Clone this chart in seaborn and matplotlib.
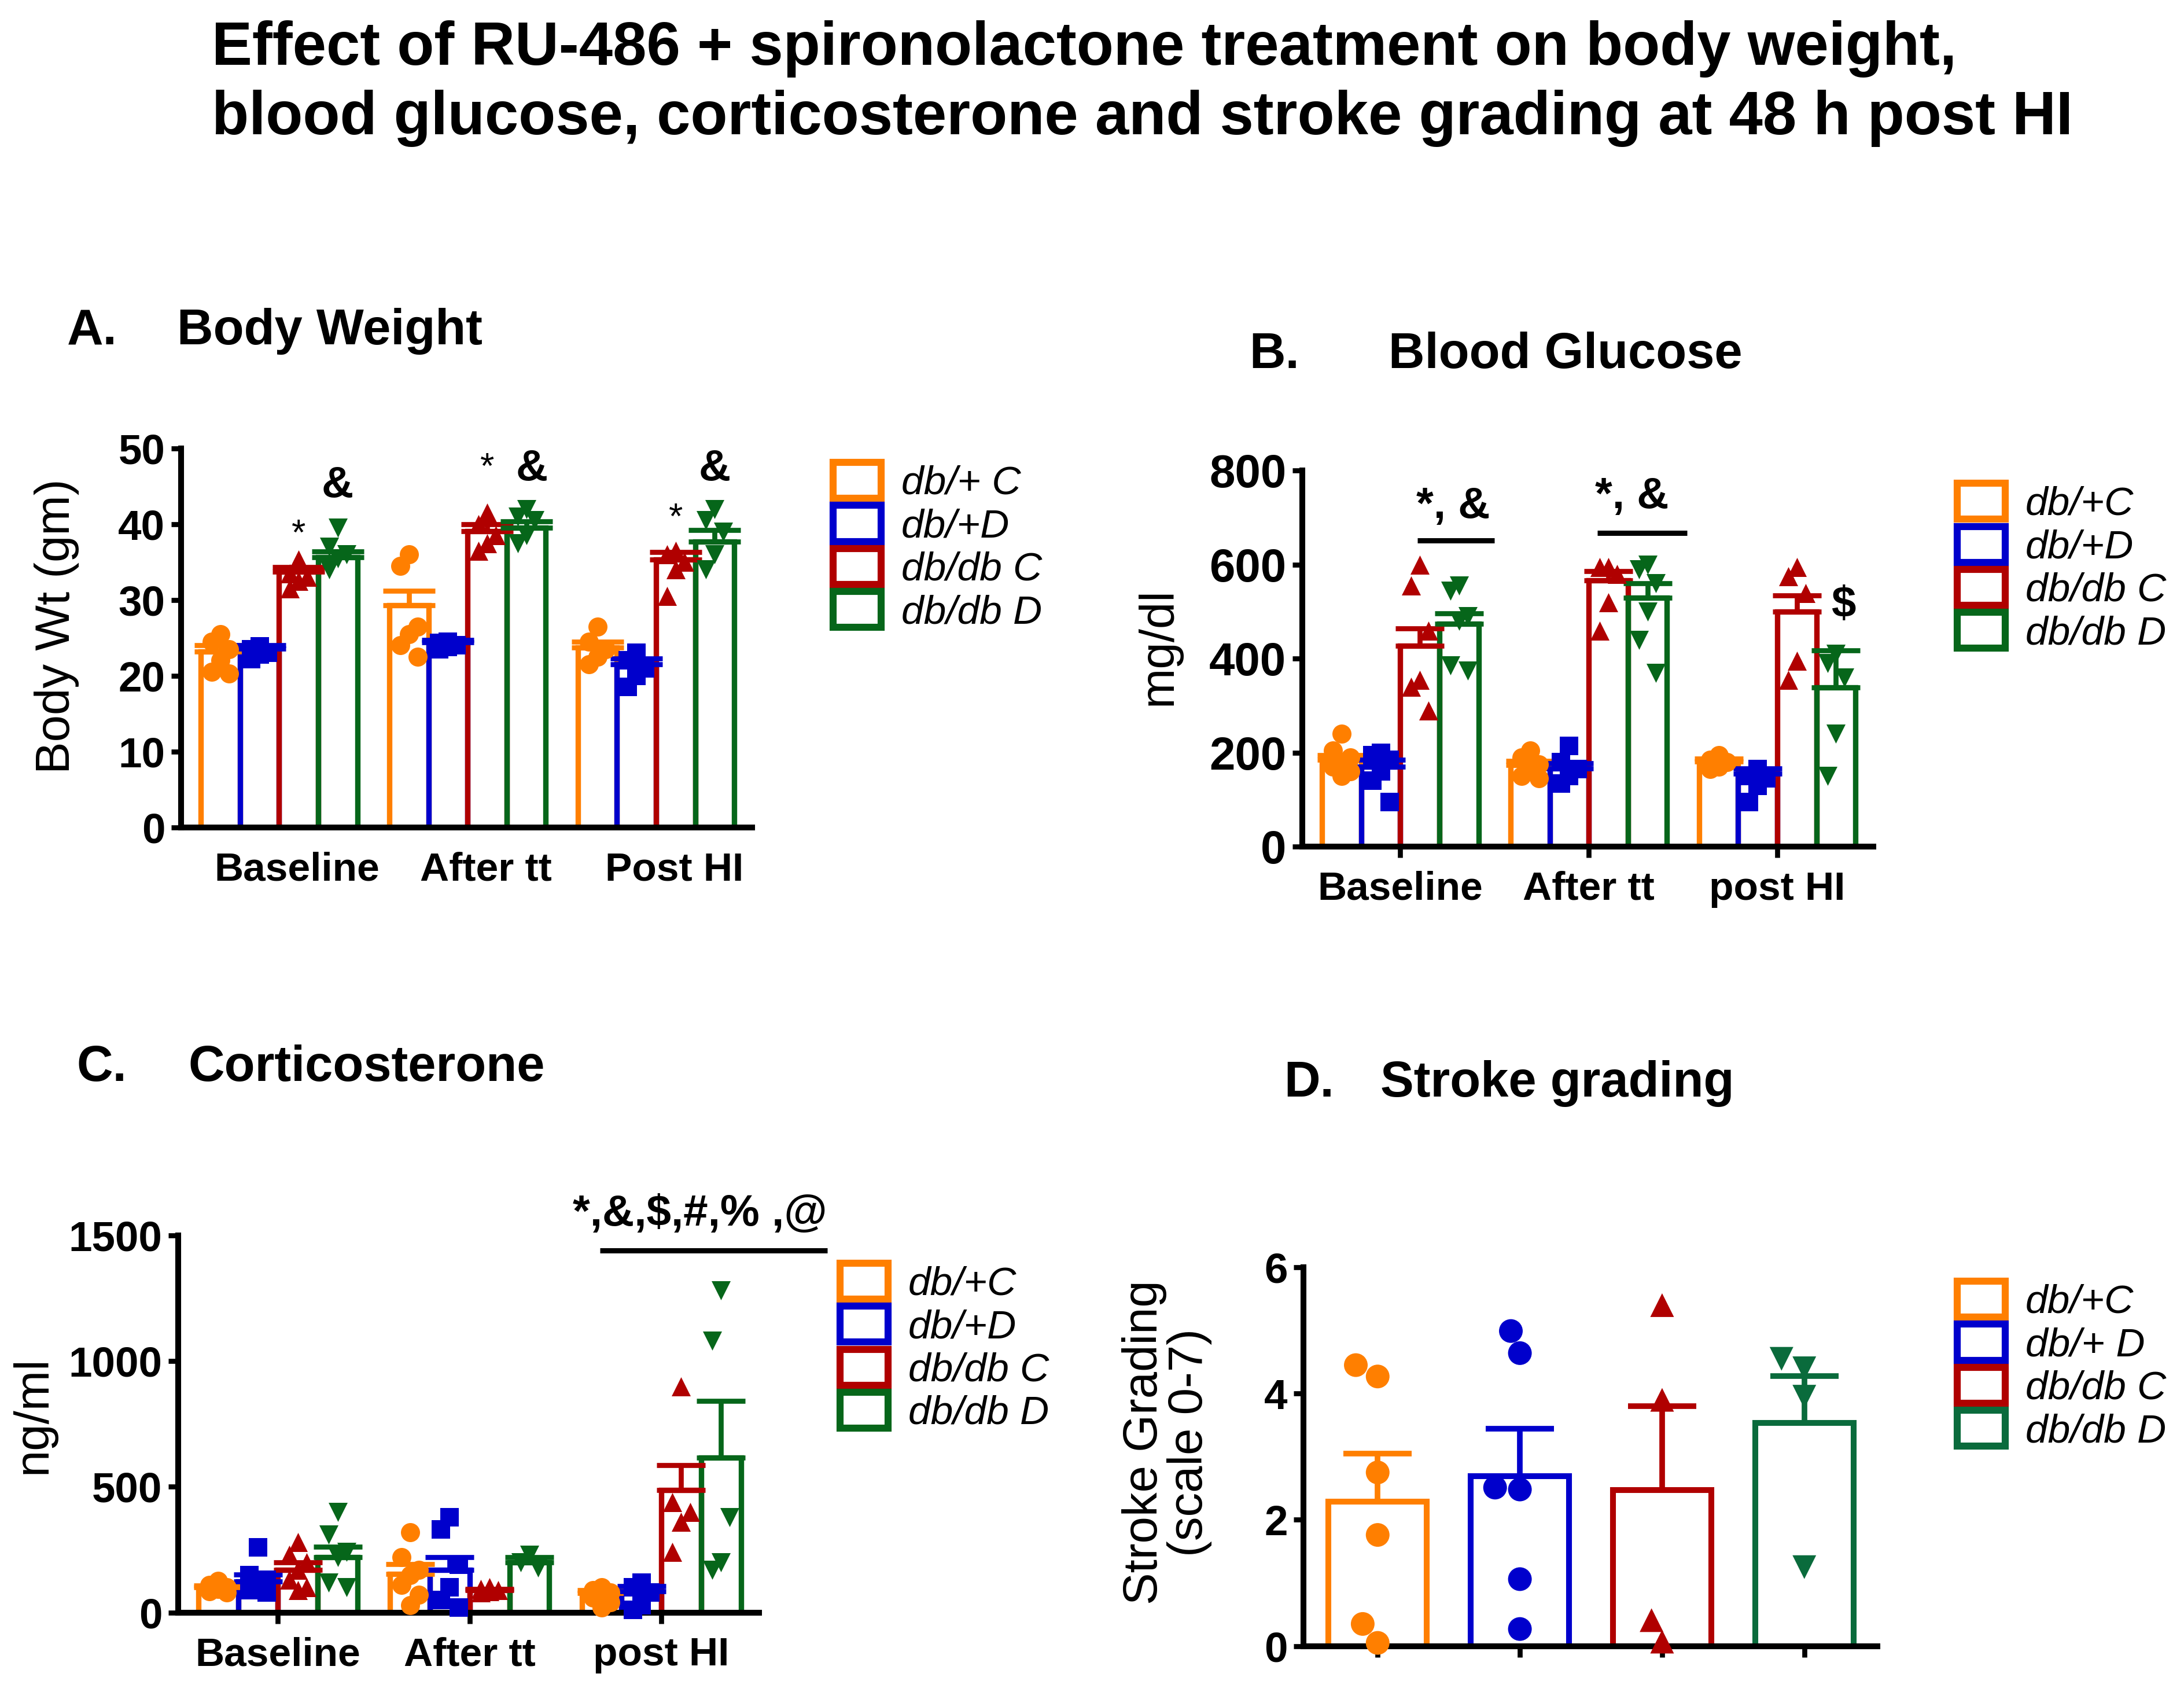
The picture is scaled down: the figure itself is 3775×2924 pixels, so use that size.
import warnings
warnings.filterwarnings("ignore")
import matplotlib
matplotlib.use("Agg")
import matplotlib.pyplot as plt
import matplotlib.transforms as mtrans
from matplotlib.patches import Patch
from matplotlib.font_manager import FontProperties
import numpy as np
import pandas as pd
import seaborn as sns

# ---------------- data ----------------
groups = ["db/+ C", "db/+ D", "db/db C", "db/db D"]
colors = ["#FF7F00", "#0000CC", "#B00000", "#06661A"]
colors_d = ["#FF7F00", "#0000CC", "#B00000", "#0A6B3C"]
markers = ["o", "s", "^", "v"]
markers_d = ["o", "o", "^", "v"]

# A. Body weight (g)
cats_a = ["Baseline", "After tt", "Post HI"]
bw_mean = [[23.2, 29.3, 23.7], [23.6, 24.4, 21.5], [33.7, 39.1, 35.3], [35.6, 39.5, 37.7]]
bw_sem = [[0.8, 1.9, 0.8], [0.4, 0.3, 0.8], [0.6, 0.9, 1.0], [0.8, 0.9, 1.5]]
bw_pts = [
    [[25.5, 24.5, 23.5, 22.0, 20.5, 20.3], [36.0, 34.5, 26.5, 25.5, 24.0, 22.5], [26.5, 24.5, 23.5, 22.5, 21.5]],
    [[23.9, 23.5, 23.0, 22.8, 22.2], [24.5, 24.3, 24.0, 23.8, 23.5], [23.0, 22.0, 21.0, 20.0, 18.5]],
    [[35.3, 33.5, 33.0, 32.5, 31.5], [41.5, 40.0, 38.5, 37.5, 36.5], [36.5, 36.0, 35.0, 34.0, 30.5]],
    [[39.5, 37.0, 36.0, 35.5, 34.0], [42.0, 41.0, 40.5, 38.5, 37.5], [42.0, 40.5, 39.0, 36.0, 34.0]],
]

# B. Blood glucose (mg/dl)
cats_b = ["Baseline", "After tt", "post HI"]
bg_mean = [[185, 174, 181], [170, 166, 155], [428, 566, 500], [474, 530, 339]]
bg_sem = [[10, 9, 6], [15, 12, 12], [37, 20, 35], [22, 30, 79]]
bg_pts = [
    [[240, 205, 190, 180, 170, 160, 150], [205, 190, 175, 165, 150, 145], [195, 185, 180, 170, 165]],
    [[200, 195, 185, 160, 140, 95], [215, 180, 165, 150, 135], [165, 150, 145, 130, 95]],
    [[600, 555, 460, 355, 340, 290], [595, 595, 580, 520, 460], [595, 575, 540, 395, 355]],
    [[555, 545, 490, 480, 385, 375], [600, 590, 560, 500, 440, 370], [410, 390, 360, 240, 150]],
]

# C. Corticosterone (ng/ml)
cats_c = ["Baseline", "After tt", "post HI"]
co_mean = [[100, 153, 78], [123, 170, 85], [170, 90, 488], [221, 200, 617]]
co_sem = [[8, 40, 12], [28, 50, 20], [30, 5, 98], [40, 20, 224]]
co_pts = [
    [[125, 110, 100, 95, 85, 80], [320, 220, 170, 150, 110, 70, 30], [100, 90, 80, 70, 60, 40, 20]],
    [[260, 150, 130, 110, 90, 80], [380, 330, 190, 100, 50, 20], [120, 100, 80, 30, 10]],
    [[280, 230, 200, 170, 130, 100, 90], [100, 95, 90, 85, 80], [900, 440, 400, 360, 240]],
    [[400, 310, 240, 220, 120, 100], [230, 200, 180], [1280, 1080, 380, 200, 170]],
]

# D. Stroke grading (scale 0-7)
sg_mean = [2.29, 2.69, 2.47, 3.53]
sg_sem = [0.76, 0.75, 1.33, 0.75]
sg_pts = [
    [4.45, 4.27, 2.75, 1.76, 0.35, 0.05],
    [4.99, 4.64, 2.51, 2.48, 1.06, 0.27],
    [5.40, 3.90, 0.41, 0.07],
    [4.55, 4.40, 3.95, 1.25],
]

legend_a = ["db/+ C", "db/+D", "db/db C", "db/db D"]
legend_b = ["db/+C", "db/+D", "db/db C", "db/db D"]
legend_c = ["db/+C", "db/+D", "db/db C", "db/db D"]
legend_d = ["db/+C", "db/+ D", "db/db C", "db/db D"]

# ---------------- style ----------------
sns.set_theme(style="ticks")
plt.rcParams["font.family"] = ["Liberation Sans", "DejaVu Sans"]
plt.rcParams["axes.edgecolor"] = "black"
plt.rcParams["xtick.color"] = "black"
plt.rcParams["ytick.color"] = "black"
plt.rcParams["text.color"] = "black"
plt.rcParams["axes.labelcolor"] = "black"

W, H = 1568.0, 1215.0
fig = plt.figure(figsize=(15.1, 11.696), dpi=250)


def frac_box(x0, x1, ytop, ybot):
    return [x0 / W, 1 - ybot / H, (x1 - x0) / W, (ybot - ytop) / H]


def style_axes(ax, ylim, yticks, ytick_size, xtick_len, xlabels_size):
    sns.despine(ax=ax)
    for s in ("left", "bottom"):
        ax.spines[s].set_linewidth(2.9)
        ax.spines[s].set_color("black")
    ax.set_ylim(*ylim)
    ax.set_yticks(yticks)
    ax.tick_params(axis="y", length=5, width=2.5, labelsize=ytick_size, pad=3)
    ax.tick_params(axis="x", length=xtick_len, width=2.5, labelsize=xlabels_size,
                   pad=12 - xtick_len)
    for lbl in ax.get_yticklabels() + ax.get_xticklabels():
        lbl.set_fontweight("bold")
    ax.set_xlabel("")


SPREAD = [0.0, -1.0, 1.0]


def grouped_panel(ax, cats, means, sems, pts, capsize, msize, width=0.83):
    rows = [(c, g, means[gi][ci]) for gi, g in enumerate(groups) for ci, c in enumerate(cats)]
    df = pd.DataFrame(rows, columns=["time", "group", "value"])
    sns.barplot(data=df, x="time", y="value", hue="group", order=cats, hue_order=groups,
                palette=colors, fill=False, width=width, linewidth=2.7, errorbar=None,
                legend=False, ax=ax)
    n = len(groups)
    bar_w = width / n
    for gi in range(n):
        centers = np.arange(len(cats)) + (gi - (n - 1) / 2) * bar_w
        ax.errorbar(centers, means[gi], yerr=[np.zeros(len(cats)), sems[gi]], fmt="none",
                    ecolor=colors[gi], elinewidth=2.5, capsize=capsize, capthick=2.5)
        xs, ys = [], []
        for ci in range(len(cats)):
            vals = sorted(pts[gi][ci], reverse=True)
            for r, v in enumerate(vals):
                xs.append(centers[ci] + SPREAD[r % 3] * 0.22 * bar_w)
                ys.append(v)
        sns.scatterplot(x=xs, y=ys, marker=markers[gi], color=colors[gi], s=msize ** 2,
                        linewidth=0, legend=False, ax=ax, zorder=3)
    for coll in ax.collections:
        coll.set_clip_on(False)
    ax.set_xlim(-0.52, len(cats) - 1 + 0.51)


def add_legend(ax, labels, cols, x, ytop):
    handles = [Patch(facecolor="white", edgecolor=c, linewidth=3.5) for c in cols]
    leg = ax.legend(handles, labels, loc="upper left", bbox_to_anchor=(x / W, 1 - ytop / H),
                    bbox_transform=fig.transFigure, frameon=False,
                    prop=FontProperties(family="Liberation Sans", style="italic", size=20),
                    handlelength=1.2, handleheight=1.0, handletextpad=0.5,
                    labelspacing=0.08, borderpad=0, borderaxespad=0)
    return leg


def sig(ax, text, x, y, size=22, weight="bold"):
    ax.text(x, y, text, ha="center", va="baseline", fontsize=size, fontweight=weight,
            clip_on=False)


def sig_line(ax, x0, x1, y):
    ax.plot([x0, x1], [y, y], color="black", lw=2.6, clip_on=False, solid_capstyle="butt")


# ---------------- titles ----------------
fig.text(152 / W, 1 - 35 / H, "Effect of RU-486 + spironolactone treatment on body weight,",
         fontsize=30.2, fontweight="bold", ha="left", va="center")
fig.text(152 / W, 1 - 85 / H, "blood glucose, corticosterone and stroke grading at 48 h post HI",
         fontsize=30.2, fontweight="bold", ha="left", va="center")

panel_titles = [
    ("A.", 48, "Body Weight", 127, 238),
    ("B.", 897, "Blood Glucose", 997, 255),
    ("C.", 55, "Corticosterone", 135, 767),
    ("D.", 922, "Stroke grading", 991, 778),
]
for letter, lx, name, nx, yc in panel_titles:
    fig.text(lx / W, 1 - yc / H, letter, fontsize=25, fontweight="bold", ha="left", va="center")
    fig.text(nx / W, 1 - yc / H, name, fontsize=25, fontweight="bold", ha="left", va="center")

# ---------------- Panel A ----------------
ax_a = fig.add_axes(frac_box(130, 540, 322, 594))
grouped_panel(ax_a, cats_a, bw_mean, bw_sem, bw_pts, capsize=13, msize=9.5)
style_axes(ax_a, (0, 50), [0, 10, 20, 30, 40, 50], 21, 0, 20)
shift = mtrans.ScaledTranslation(9 / 72, 0, fig.dpi_scale_trans)
for lbl in ax_a.get_xticklabels():
    lbl.set_transform(lbl.get_transform() + shift)
ax_a.set_ylabel("Body Wt (gm)", fontsize=24)
ax_a.yaxis.set_label_coords(-0.178, 0.53)
add_legend(ax_a, legend_a, colors, 598, 332)
sig(ax_a, "*", 0 + 0.104, 37.3, size=18, weight="normal")
sig(ax_a, "&", 0 + 0.311, 43.6)
sig(ax_a, "*", 1 + 0.104, 46.1, size=18, weight="normal")
sig(ax_a, "&", 1 + 0.34, 45.8)
sig(ax_a, "*", 2 + 0.104, 39.5, size=18, weight="normal")
sig(ax_a, "&", 2 + 0.311, 45.8)

# ---------------- Panel B ----------------
ax_b = fig.add_axes(frac_box(935, 1345, 338, 608))
grouped_panel(ax_b, cats_b, bg_mean, bg_sem, bg_pts, capsize=12, msize=9.5)
style_axes(ax_b, (0, 800), [0, 200, 400, 600, 800], 23, 5.5, 20)
ax_b.set_ylabel("mg/dl", fontsize=24)
ax_b.yaxis.set_label_coords(-0.212, 0.533)
add_legend(ax_b, legend_b, colors, 1405, 347)
sig_line(ax_b, 0.09, 0.5, 652)
sig(ax_b, "*, &", 0.28, 699)
sig_line(ax_b, 1.044, 1.52, 667)
sig(ax_b, "*, &", 1.23, 720)
sig(ax_b, "$", 2.35, 489)

# ---------------- Panel C ----------------
ax_c = fig.add_axes(frac_box(128, 545, 887, 1158))
grouped_panel(ax_c, cats_c, co_mean, co_sem, co_pts, capsize=12, msize=9.5)
style_axes(ax_c, (0, 1500), [0, 500, 1000, 1500], 21, 5.5, 20)
ax_c.set_ylabel("ng/ml", fontsize=24)
ax_c.yaxis.set_label_coords(-0.211, 0.524)
add_legend(ax_c, legend_c, colors, 603, 907)
sig_line(ax_c, 1.68, 2.865, 1439)
sig(ax_c, "*,&,$,#,% ,@", 2.2, 1538)

# ---------------- Panel D ----------------
ax_d = fig.add_axes(frac_box(936, 1348, 910, 1182))
df_d = pd.DataFrame({"group": groups, "value": sg_mean})
sns.barplot(data=df_d, x="group", y="value", hue="group", order=groups, hue_order=groups,
            palette=colors_d, fill=False, width=0.69, linewidth=2.9, errorbar=None,
            legend=False, ax=ax_d)
for gi in range(len(groups)):
    ax_d.errorbar([gi], [sg_mean[gi]], yerr=[[0], [sg_sem[gi]]], fmt="none",
                  ecolor=colors_d[gi], elinewidth=2.8, capsize=17, capthick=2.8)
for gi, g in enumerate(groups):
    pdf = pd.DataFrame({"group": [g] * len(sg_pts[gi]), "value": sg_pts[gi]})
    sns.swarmplot(data=pdf, x="group", y="value", hue="group", order=groups, hue_order=groups,
                  palette=colors_d, marker=markers_d[gi], size=11.8, linewidth=0,
                  legend=False, ax=ax_d)
for coll in ax_d.collections:
    coll.set_clip_on(False)
ax_d.set_xlim(-0.52, 3.515)
style_axes(ax_d, (0, 6), [0, 2, 4, 6], 21, 5.5, 20)
ax_d.set_xticks(range(4))
ax_d.set_xticklabels([""] * 4)
ax_d.set_ylabel("Stroke Grading\n(scale 0-7)", fontsize=24, linespacing=1.0)
ax_d.yaxis.set_label_coords(-0.16, 0.537)
add_legend(ax_d, legend_d, colors_d, 1405, 920)

fig.savefig("out.png", dpi=250, facecolor="white")
